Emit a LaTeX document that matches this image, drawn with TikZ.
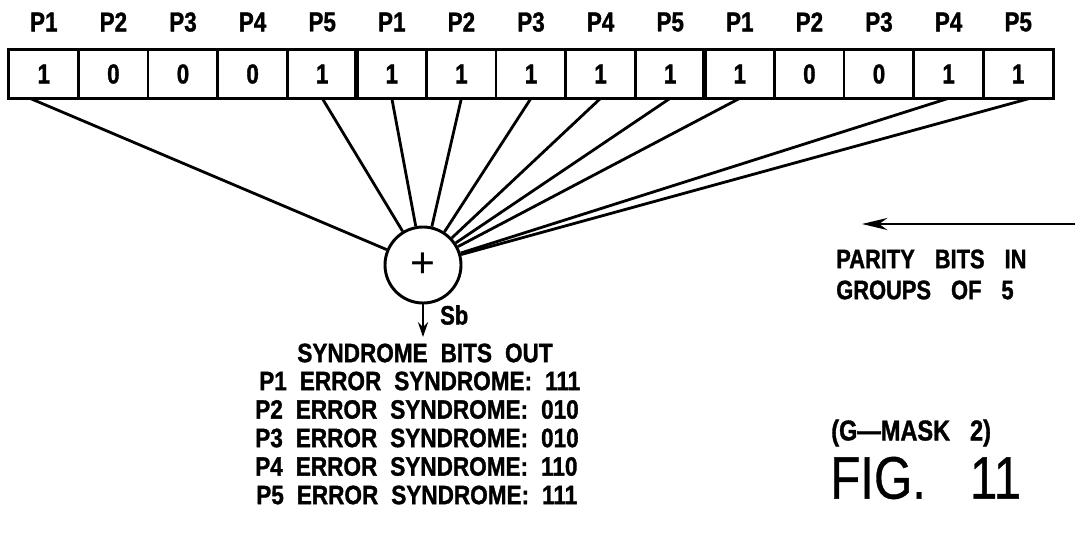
\documentclass[tikz,border=0pt]{standalone}
\usepackage{fontspec}
\newfontfamily\pf{Liberation Sans}[FakeStretch=0.82,FakeBold=1.2]
\newfontfamily\pft{Liberation Sans}[FakeStretch=0.85,FakeBold=1.2]
\newfontfamily\pfig{Liberation Sans}[FakeStretch=0.82,FakeBold=0.6]
\newfontfamily\pfn{Liberation Sans}
\usetikzlibrary{arrows.meta,calc}
\newcommand\gp{\hspace{9.75pt}}
\newcommand\gq{\hspace{15pt}}
\begin{document}
\begin{tikzpicture}[x=0.75pt,y=-0.75pt,
  lab/.style={font=\pf\bfseries\fontsize{20.5}{20}\selectfont, inner sep=0},
  cell/.style={minimum width=52.2pt, minimum height=36pt, inner sep=0, font=\pf\bfseries\fontsize{20.5}{20}\selectfont},
  fan/.style={line width=2.1pt},
  txt/.style={font=\pft\bfseries\fontsize{19.9}{20}\selectfont, inner sep=0},
  ptxt/.style={font=\pf\bfseries\fontsize{20}{20}\selectfont, inner sep=0},
  big/.style={font=\pfig\fontsize{45}{45}\selectfont, inner sep=0},
  arr/.style={line width=2.1pt, -{Stealth[length=11pt,width=7.5pt]}},
]
\useasboundingbox (0,0) rectangle (1077,557);
\foreach \i/\p/\b in {0/1/1,1/2/0,2/3/0,3/4/0,4/5/1,5/1/1,6/2/1,7/3/1,8/4/1,9/5/1,10/1/1,11/2/0,12/3/0,13/4/1,14/5/1} {
  \node[cell] (c\i) at ({43.8+69.6*\i},74) {\b};
  \node[lab] (l\i) at ({43.8+69.6*\i},22) {P\p};
}
% register
\draw[line width=2.6pt] (c0.north west) rectangle (c14.south east);
\foreach \k in {1,2,3,4,6,7,8,9,11,12,13,14}
  \draw[line width=2.1pt] (c\k.north west) -- (c\k.south west);
\foreach \k in {5,10}
  \draw[line width=3.4pt] (c\k.north west) -- (c\k.south west);
% summing node
\node[circle, draw, line width=2.2pt, minimum size=57pt, inner sep=0,
      font=\pfn\fontsize{32}{32}\selectfont] (sum) at (423,265) {+};
\coordinate (s0) at ($(c0.south)+(-14,0)$);
\coordinate (s14) at ($(c14.south)+(12,0)$);
\draw[fan] (s0) -- (sum);
\draw[fan] (s14) -- (sum);
\foreach \k in {4,5,6,7,8,9,10,13}
  \draw[fan] (c\k.south) -- (sum);
% output
\coordinate (sbout) at (423,337);
\draw[arr] (sum.south) -- (sbout);
\node[ptxt, anchor=west] (sb) at (440,315) {Sb};
\node[txt, anchor=center] (h0) at (425,353) {SYNDROME\gp BITS\gp OUT};
\node[txt, anchor=west] (h1) at (259,381) {P1\gp ERROR\gp SYNDROME:\gp 111};
\node[txt, anchor=west] (h2) at (255,409.5) {P2\gp ERROR\gp SYNDROME:\gp 010};
\node[txt, anchor=west] (h3) at (255,438) {P3\gp ERROR\gp SYNDROME:\gp 010};
\node[txt, anchor=west] (h4) at (255,466.5) {P4\gp ERROR\gp SYNDROME:\gp 110};
\node[txt, anchor=west] (h5) at (256,495) {P5\gp ERROR\gp SYNDROME:\gp 111};
% input arrow
\coordinate (pin) at (1075,224);
\coordinate (ptip) at (862,224);
\draw[line width=2.2pt, -{Stealth[length=19pt,width=9pt]}] (pin) -- (ptip);
\node[ptxt, anchor=west] (p1) at (836,259) {PARITY\gq BITS\gq IN};
\node[ptxt, anchor=west] (p2) at (836,290) {GROUPS\gq OF\gq 5};
% caption
\node[ptxt, anchor=west, font=\pf\bfseries\fontsize{21.5}{22}\selectfont] (g) at (831,433) {(G—MASK\gq 2)};
\node[big, anchor=west] (fig) at (830,478) {FIG.\hspace{33pt}11};
\end{tikzpicture}
\end{document}
